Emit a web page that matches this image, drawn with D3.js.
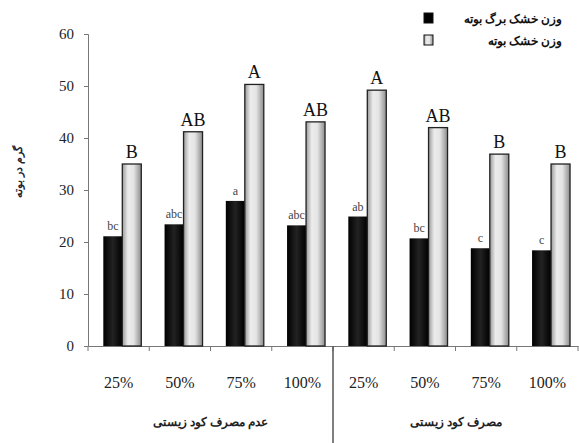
<!DOCTYPE html>
<html lang="fa">
<head>
<meta charset="UTF-8">
<title>Chart</title>
<style>
    body { margin: 0; background: #fff; }
    svg { display: block; }
    text { font-family: "Liberation Serif", "DejaVu Serif", serif; }
</style>
<script src="https://d3js.org/d3.v7.min.js"></script>
</head>
<body>
<div id="chart"></div>
<script>
    // data
    const doses = ["25%", "50%", "75%", "100%", "25%", "50%", "75%", "100%"];
    const groups = ["عدم مصرف کود زیستی", "مصرف کود زیستی"];
    const leafDry = [21.1, 23.4, 27.9, 23.2, 24.9, 20.7, 18.8, 18.4];
    const plantDry = [35.0, 41.2, 50.3, 43.1, 49.2, 42.0, 36.9, 35.0];
    const leafLetters = ["bc", "abc", "a", "abc", "ab", "bc", "c", "c"];
    const plantLetters = ["B", "AB", "A", "AB", "A", "AB", "B", "B"];
    const seriesNames = ["وزن خشک برگ بوته", "وزن خشک بوته"];
    const yTicks = [0, 10, 20, 30, 40, 50, 60];

    const width = 579, height = 443;
    const margin = { top: 34, right: 1, bottom: 97, left: 88 };

    const svg = d3.select('#chart').append('svg')
        .attr('width', width)
        .attr('height', height);

    const defs = svg.append('defs');
    const gBlack = defs.append('linearGradient').attr('id', 'gBlack');
    gBlack.append('stop').attr('offset', '0%').attr('stop-color', '#000');
    gBlack.append('stop').attr('offset', '50%').attr('stop-color', '#222');
    gBlack.append('stop').attr('offset', '100%').attr('stop-color', '#000');
    const gWhite = defs.append('linearGradient').attr('id', 'gWhite');
    gWhite.append('stop').attr('offset', '0%').attr('stop-color', '#9a9a9a');
    gWhite.append('stop').attr('offset', '30%').attr('stop-color', '#ececec');
    gWhite.append('stop').attr('offset', '60%').attr('stop-color', '#e4e4e4');
    gWhite.append('stop').attr('offset', '100%').attr('stop-color', '#8c8c8c');

    const x = d3.scaleBand()
        .domain(d3.range(doses.length))
        .range([margin.left, width - margin.right])
        .paddingInner(0)
        .paddingOuter(0);

    const inner = d3.scaleBand()
        .domain([0, 1])
        .range([x.bandwidth() * 0.25, x.bandwidth() * 0.87]);

    const y = d3.scaleLinear()
        .domain([0, 60])
        .range([height - margin.bottom, margin.top]);

    // y axis
    const yAxis = svg.append('g')
        .attr('transform', `translate(${margin.left},0)`)
        .call(d3.axisLeft(y).tickValues(yTicks).tickSize(4).tickPadding(10));
    yAxis.select('.domain').attr('stroke', '#777');
    yAxis.selectAll('.tick line').attr('stroke', '#777');
    yAxis.selectAll('text').attr('font-size', 15).attr('fill', '#222');

    // x axis
    const xAxis = svg.append('g')
        .attr('transform', `translate(0,${y(0)})`)
        .call(d3.axisBottom(x).tickSize(0).tickFormat(''));
    xAxis.select('.domain').attr('stroke', '#777');
    xAxis.selectAll('.bound')
        .data(d3.range(doses.length + 1))
        .enter().append('line')
        .attr('x1', i => margin.left + i * x.step())
        .attr('x2', i => margin.left + i * x.step())
        .attr('y1', 0).attr('y2', 5)
        .attr('stroke', '#777');

    // bars
    const bars = svg.append('g');
    doses.forEach((d, i) => {
        const x0 = x(i);
        bars.append('rect')
            .attr('x', x0 + inner(0))
            .attr('y', y(leafDry[i]))
            .attr('width', inner.bandwidth())
            .attr('height', y(0) - y(leafDry[i]))
            .attr('fill', 'url(#gBlack)');
        bars.append('rect')
            .attr('x', x0 + inner(1))
            .attr('y', y(plantDry[i]))
            .attr('width', inner.bandwidth())
            .attr('height', y(0) - y(plantDry[i]))
            .attr('fill', 'url(#gWhite)')
            .attr('stroke', '#222')
            .attr('stroke-width', 1.3);

        bars.append('text')
            .attr('x', x0 + inner(0) + inner.bandwidth() / 2)
            .attr('y', y(leafDry[i]) - 6)
            .attr('text-anchor', 'middle')
            .attr('font-size', 12)
            .attr('fill', '#444')
            .text(leafLetters[i]);
        bars.append('text')
            .attr('x', x0 + inner(1) + inner.bandwidth() / 2)
            .attr('y', y(plantDry[i]) - 6)
            .attr('text-anchor', 'middle')
            .attr('font-size', 18)
            .attr('fill', '#111')
            .text(plantLetters[i]);
    });

    // category labels
    svg.append('g').selectAll('text')
        .data(doses)
        .enter().append('text')
        .attr('x', (d, i) => x(i) + x.bandwidth() / 2)
        .attr('y', 388)
        .attr('text-anchor', 'middle')
        .attr('font-size', 16)
        .attr('fill', '#222')
        .text(d => d);

    // group divider and labels
    const mid = margin.left + 4 * x.step();
    svg.append('line')
        .attr('x1', mid).attr('x2', mid)
        .attr('y1', y(0)).attr('y2', height)
        .attr('stroke', '#555').attr('stroke-width', 1.5);

    svg.append('g').selectAll('text')
        .data(groups)
        .enter().append('text')
        .attr('x', (d, i) => margin.left + (i * 4 + 2) * x.step())
        .attr('y', 426)
        .attr('text-anchor', 'middle')
        .attr('font-family', 'DejaVu Sans')
        .attr('font-size', 12)
        .attr('font-weight', 'bold')
        .attr('fill', '#222')
        .text(d => d);

    // y label
    svg.append('text')
        .attr('transform', 'translate(22,172) rotate(-90)')
        .attr('text-anchor', 'middle')
        .attr('font-family', 'DejaVu Sans')
        .attr('font-size', 11)
        .attr('font-weight', 'bold')
        .attr('fill', '#223')
        .text('گرم در بوته');

    // legend
    const legend = svg.append('g').attr('transform', 'translate(424,13)');
    seriesNames.forEach((name, i) => {
        const row = legend.append('g').attr('transform', `translate(0,${i * 22})`);
        row.append('rect')
            .attr('width', 9).attr('height', 10)
            .attr('fill', i === 0 ? '#000' : 'url(#gWhite)')
            .attr('stroke', '#111');
        row.append('text')
            .attr('x', 138).attr('y', 10)
            .attr('text-anchor', 'end')
            .attr('font-family', 'DejaVu Sans')
            .attr('font-size', 12)
            .attr('font-weight', 'bold')
            .attr('fill', '#111')
            .text(name);
    });
</script>
</body>
</html>
